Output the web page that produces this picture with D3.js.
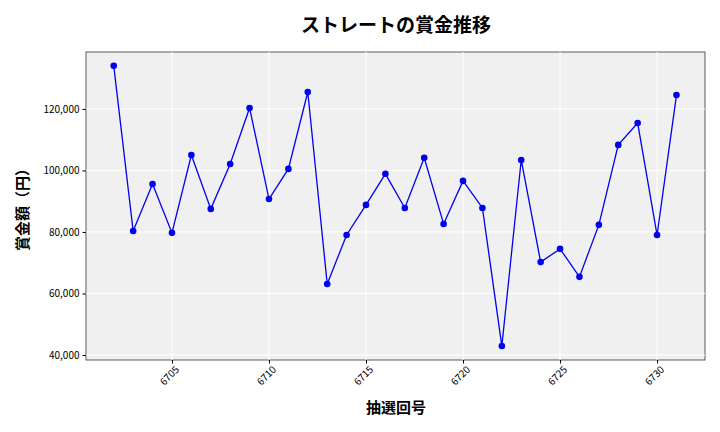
<!DOCTYPE html><html><head><meta charset="utf-8"><script src="https://cdn.jsdelivr.net/npm/d3@7"></script>
<style>body{margin:0;background:#fff}text{font-family:"Noto Sans CJK JP","Noto Sans",sans-serif}</style></head><body><svg id="c" width="720" height="432"></svg>
<script>
const draws=[6702,6703,6704,6705,6706,6707,6708,6709,6710,6711,6712,6713,6714,6715,6716,6717,6718,6719,6720,6721,6722,6723,6724,6725,6726,6727,6728,6729,6730,6731];
const prizes=[134000,80300,95600,79700,105000,87500,102100,120300,90700,100500,125500,63100,79000,88800,98900,87800,104100,82600,96600,87800,42900,103400,70200,74500,65400,82300,108300,115400,79000,124500];
const xTicks=[6705,6710,6715,6720,6725,6730];
const yTicks=[40000,60000,80000,100000,120000];
const svg=d3.select("#c");
const L=86,R=705,T=52,B=360;
const x=d3.scaleLinear().domain([6700.57,6732.47]).range([L,R]);
const y=d3.scaleLinear().domain([38370,138500]).range([B,T]);
svg.append("rect").attr("x",L).attr("y",T).attr("width",R-L).attr("height",B-T).attr("fill","#f0f0f0").attr("stroke","#333").attr("stroke-width",0.8);
const g=svg.append("g");
xTicks.forEach(t=>g.append("line").attr("x1",x(t)).attr("x2",x(t)).attr("y1",T).attr("y2",B).attr("stroke","#fff"));
yTicks.forEach(t=>g.append("line").attr("y1",y(t)).attr("y2",y(t)).attr("x1",L).attr("x2",R).attr("stroke","#fff"));
const xa=svg.append("g").attr("transform",`translate(0,${B})`).call(d3.axisBottom(x).tickValues(xTicks).tickFormat(d3.format("d")).tickSize(3.5));
xa.selectAll("text").attr("transform","rotate(-45)").attr("text-anchor","end").attr("dx","-0.2em").attr("dy","0.6em").style("font-size","10px");
const ya=svg.append("g").attr("transform",`translate(${L},0)`).call(d3.axisLeft(y).tickValues(yTicks).tickFormat(d3.format(",")).tickSize(3.5));
ya.selectAll("text").style("font-size","10px");
svg.selectAll(".domain").remove();
const line=d3.line().x((d,i)=>x(draws[i])).y(d=>y(d));
svg.append("path").datum(prizes).attr("d",line).attr("fill","none").attr("stroke","#0000ee").attr("stroke-width",1.3);
svg.selectAll("circle").data(prizes).join("circle").attr("cx",(d,i)=>x(draws[i])).attr("cy",d=>y(d)).attr("r",3.3).attr("fill","#0000ee");
svg.append("text").attr("x",396).attr("y",32).attr("text-anchor","middle").style("font-size","19px").style("font-weight","bold").text("ストレートの賞金推移");
svg.append("text").attr("x",396).attr("y",413).attr("text-anchor","middle").style("font-size","15px").style("font-weight","600").text("抽選回号");
svg.append("text").attr("transform","translate(28,206) rotate(-90)").attr("text-anchor","middle").style("font-size","15px").style("font-weight","600").text("賞金額（円）");
</script></body></html>
